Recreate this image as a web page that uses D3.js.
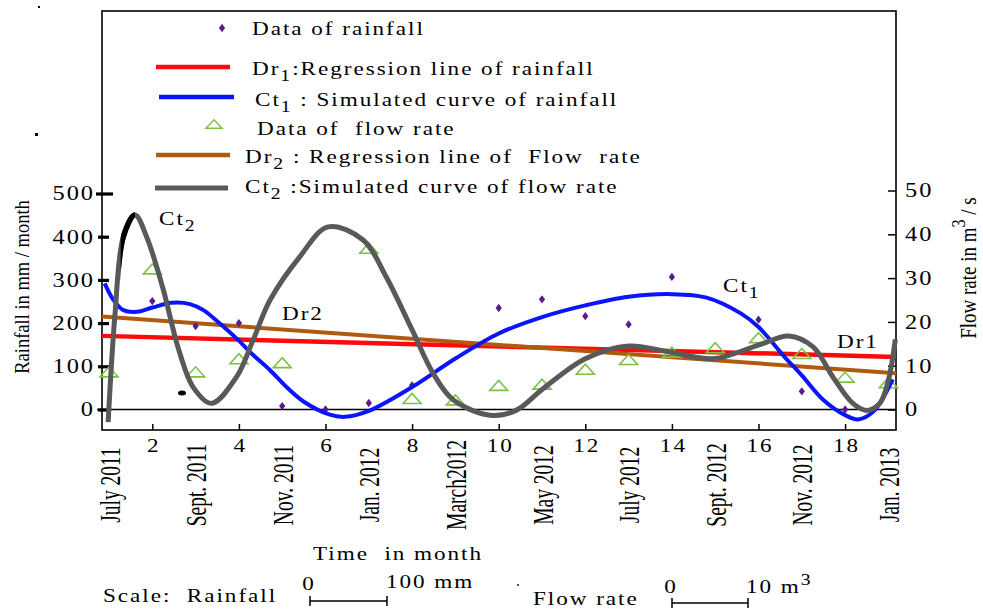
<!DOCTYPE html>
<html>
<head>
<meta charset="utf-8">
<script src="https://cdn.jsdelivr.net/npm/d3@7"></script>
<style>
  body { margin: 0; background: #fff; }
  text { font-family: "Liberation Serif", "Times New Roman", serif; fill: #000; }
</style>
</head>
<body>
<svg id="chart" width="983" height="611"></svg>
<script>
// ---- data ----
const xTicks = [2, 4, 6, 8, 10, 12, 14, 16, 18];
const labelMonths = [1, 3, 5, 7, 9, 11, 13, 15, 17, 19];
const monthLabels = ["July 2011", "Sept. 2011", "Nov. 2011", "Jan. 2012", "March2012",
                     "May 2012", "July 2012", "Sept. 2012", "Nov. 2012", "Jan. 2013"];
const rainTicks = [0, 100, 200, 300, 400, 500];
const flowTicks = [0, 10, 20, 30, 40, 50];

// monthly rainfall (mm) - [month, value]
const rainfall = [[2, 251], [3, 193], [4, 200], [5, 8], [6, 0], [7, 15], [8, 56], [10, 235],
                  [11, 255], [12, 216], [13, 197], [14, 307], [16, 208], [17, 42], [18, 0]];
// flow rate (m3/s) - [month, value]
const flowRate = [[1, 8.6], [2, 32.1], [3, 8.6], [4, 11.6], [5, 10.7], [7, 36.8], [8, 2.5],
                  [9, 2.2], [10, 5.5], [11, 5.8], [12, 9.2], [13, 11.4], [14, 13.1], [15, 14.1],
                  [16, 16.4], [17, 12.8], [18, 7.4], [19, 6.1]];
// Ct1 simulated curve of rainfall (mm)
const ct1 = [[0.9, 292], [1.1, 254], [1.33, 230], [1.65, 226], [2.0, 236], [2.45, 247], [2.87, 244],
             [3.18, 230], [3.56, 199], [3.95, 164], [4.33, 126], [4.72, 91], [5.1, 52], [5.5, 18],
             [6.1, -12], [6.45, -17], [7.0, -3], [8.0, 52], [9.0, 118], [10.0, 176], [11.0, 214],
             [12.0, 241], [13.0, 261], [14.0, 267], [14.8, 259], [15.6, 222], [16.0, 191],
             [16.6, 122], [17.0, 79], [17.5, 22], [18.0, -13], [18.3, -23], [18.65, -5], [19.1, 70]];
// Ct2 simulated curve of flow rate (m3/s)
const ct2 = [[0.98, -2.9], [1.14, 21.9], [1.33, 39.4], [1.6, 44.4], [1.87, 39.4], [2.25, 27.5],
             [2.6, 14.0], [2.95, 5.0], [3.37, 1.4], [3.95, 7.5], [4.33, 15.9], [4.72, 25.0],
             [5.4, 34.8], [6.06, 41.7], [6.87, 38.7], [7.4, 30.3], [7.99, 18.4], [8.49, 8.2],
             [8.95, 2.2], [9.8, -1.3], [10.4, -0.2], [11.03, 4.8], [12.0, 11.6], [13.0, 14.5],
             [14.0, 13.0], [14.96, 11.6], [16.0, 14.7], [16.7, 16.8], [17.26, 14.3], [17.72, 7.4],
             [18.18, 1.4], [18.5, -0.2], [18.8, 1.4], [19.0, 6.7], [19.16, 16.0]];
// regression lines: value at month 1 and month 19
const dr1 = [170, 122.2];
const dr2 = [21.1, 8.4];

// ---- layout ----
const SX = 1.22;           // horizontal stretch of flat text
const LS = 1.6;            // plus some letter spacing
const SXR = 1.47;          // stretch of rotated text
const frame = { left: 102, right: 896, top: 11, bottom: 430 };
const svg = d3.select('#chart');

const x = d3.scaleLinear().domain([1, 19]).range([109, 888.4]);
const yL = d3.scaleLinear().domain([0, 500]).range([409.5, 193.5]);
const yR = d3.scaleLinear().domain([0, 50]).range([409.5, 190.5]);
const xMin = x.invert(frame.left), xMax = x.invert(frame.right);

const col = { red: '#ff0a0a', blue: '#0a14ff', brown: '#b05a10', gray: '#595959',
              green: '#7cc142', purple: '#5b1a8e' };

// text helper: parts = [[string, 'sub'|'sup'|undefined], ...]
function label(g, px, py, parts, size, anchor, rotate) {
  const t = g.append('text')
    .attr('transform', rotate ? `translate(${px},${py}) scale(${SXR},1) rotate(-90)`
                              : `translate(${px},${py}) scale(${SX},1)`)
    .attr('font-size', size)
    .attr('text-anchor', anchor || 'start');
  if (rotate) t.attr('dominant-baseline', 'central');
  else t.attr('letter-spacing', LS);
  let shift = 0;
  parts.forEach(([s, kind]) => {
    const want = kind === 'sub' ? size * 0.3 : kind === 'sup' ? -size * 0.4 : 0;
    t.append('tspan')
      .attr('dy', want - shift)
      .attr('font-size', kind ? size * 0.85 : size)
      .text(s);
    shift = want;
  });
  return t;
}

// ---- frame + zero line ----
svg.append('rect')
  .attr('x', frame.left).attr('y', frame.top)
  .attr('width', frame.right - frame.left).attr('height', frame.bottom - frame.top)
  .attr('fill', 'none').attr('stroke', '#000').attr('stroke-width', 1.6);
svg.append('line')
  .attr('x1', 97).attr('x2', frame.right)
  .attr('y1', yL(0)).attr('y2', yL(0))
  .attr('stroke', '#000').attr('stroke-width', 1.6);

// ---- axes ----
const gL = svg.append('g').attr('transform', `translate(${frame.left},0)`)
  .call(d3.axisLeft(yL).tickValues(rainTicks).tickSize(7).tickPadding(1));
gL.select('.domain').remove();
gL.selectAll('.tick line')
  .attr('x1', d => d === 500 ? 11 : 7).attr('x2', d => d === 500 ? -6 : -4)
  .attr('stroke-width', 3.2).attr('stroke', '#000');
gL.selectAll('.tick text')
  .attr('font-family', null).attr('font-size', 20).attr('letter-spacing', LS)
  .attr('transform', `scale(${SX},1)`).attr('x', -7 / SX);

const gR = svg.append('g').attr('transform', `translate(${frame.right},0)`)
  .call(d3.axisRight(yR).tickValues(flowTicks).tickSize(-8).tickPadding(9));
gR.select('.domain').remove();
gR.selectAll('.tick line').attr('stroke-width', 1.5).attr('stroke', '#000');
gR.selectAll('.tick text')
  .attr('font-family', null).attr('font-size', 20).attr('letter-spacing', LS)
  .attr('transform', `scale(${SX},1)`).attr('x', 9 / SX);

const gB = svg.append('g').attr('transform', `translate(0,${frame.bottom})`)
  .call(d3.axisBottom(x).tickValues(xTicks).tickSize(-6).tickPadding(9));
gB.select('.domain').remove();
gB.selectAll('.tick line').attr('stroke-width', 1.5).attr('stroke', '#000');
gB.selectAll('.tick text')
  .attr('font-family', null).attr('font-size', 19).attr('letter-spacing', LS)
  .attr('transform', `scale(${SX},1)`).attr('x', LS / 2);

// rotated month labels
const gM = svg.append('g');
labelMonths.forEach((m, i) => {
  const px = Math.min(Math.max(x(m), 100), 893);
  label(gM, px, 485, [[monthLabels[i]]], 19.5, 'middle', true);
});

// axis titles
label(svg, 22, 287, [['Rainfall in mm / month']], 18.5, 'middle', true)
  .attr('transform', 'translate(22,287) scale(1.15,1) rotate(-90)');
label(svg, 968, 268, [['Flow rate in m'], ['3', 'sup'], [' / s']], 19, 'middle', true)
  .attr('transform', 'translate(968,268) scale(1.2,1) rotate(-90)');
label(svg, 313, 560, [['Time\u00a0\u00a0in month']], 19);

// ---- marks ----
const regLine = (vals, scale) => d3.line()
  .x(d => x(d))
  .y(d => scale(vals[0] + (vals[1] - vals[0]) * (d - 1) / 18));

svg.append('path').datum([xMin, xMax])
  .attr('d', regLine(dr1, yL))
  .attr('fill', 'none').attr('stroke', col.red).attr('stroke-width', 4.5);
svg.append('path').datum([xMin, xMax])
  .attr('d', regLine(dr2, yR))
  .attr('fill', 'none').attr('stroke', col.brown).attr('stroke-width', 4);

const triPath = 'M-9,5L9,5L0,-5Z';
svg.append('g').selectAll('path')
  .data(flowRate)
  .join('path')
  .attr('transform', d => `translate(${x(d[0])},${yR(d[1])})`)
  .attr('d', triPath)
  .attr('fill', 'none').attr('stroke', col.green).attr('stroke-width', 1.6);

const diamond = d3.symbol(d3.symbolDiamond, 20);
svg.append('g').selectAll('path')
  .data(rainfall)
  .join('path')
  .attr('transform', d => `translate(${x(d[0])},${yL(d[1])}) scale(1.3,1)`)
  .attr('d', diamond)
  .attr('fill', col.purple);

const curve1 = d3.line().x(d => x(d[0])).y(d => yL(d[1])).curve(d3.curveCatmullRom.alpha(0.5));
const curve2 = d3.line().x(d => x(d[0])).y(d => yR(d[1])).curve(d3.curveCatmullRom.alpha(0.5));

svg.append('path').datum(ct1)
  .attr('d', curve1)
  .attr('fill', 'none').attr('stroke', col.blue).attr('stroke-width', 4);
svg.append('path').datum(ct2)
  .attr('d', curve2)
  .attr('fill', 'none').attr('stroke', col.gray).attr('stroke-width', 5);

// black stretch on the rising part of Ct2
svg.append('clipPath').attr('id', 'blk')
  .append('rect').attr('x', x(1.27)).attr('y', 0)
  .attr('width', x(1.6) - x(1.27)).attr('height', 611);
svg.append('path').datum(ct2)
  .attr('d', curve2).attr('clip-path', 'url(#blk)')
  .attr('fill', 'none').attr('stroke', '#000').attr('stroke-width', 5.5);

// stray marks of the scanned figure
svg.append('ellipse').attr('cx', 182).attr('cy', 393).attr('rx', 4).attr('ry', 2.5).attr('fill', '#000');
svg.append('rect').attr('x', 35).attr('y', 133).attr('width', 3).attr('height', 3).attr('fill', '#000');
svg.append('rect').attr('x', 38).attr('y', 6).attr('width', 2).attr('height', 2).attr('fill', '#000');
svg.append('rect').attr('x', 517).attr('y', 584).attr('width', 2).attr('height', 2).attr('fill', '#555');

// in-plot labels
label(svg, 159, 225, [['Ct'], ['2', 'sub']], 19);
label(svg, 282, 320, [['Dr2']], 19);
label(svg, 723, 292, [['Ct'], ['1', 'sub']], 19);
label(svg, 837, 348, [['Dr1']], 19);

// ---- legend ----
const lg = svg.append('g');
lg.append('path').attr('transform', 'translate(222,28) scale(1.3,1)').attr('d', diamond).attr('fill', col.purple);
label(lg, 252, 35, [['Data of rainfall']], 19);

lg.append('line').attr('x1', 156).attr('x2', 230).attr('y1', 67).attr('y2', 67)
  .attr('stroke', col.red).attr('stroke-width', 4.3);
label(lg, 252, 75, [['Dr'], ['1', 'sub'], [':Regression line of rainfall']], 19);

lg.append('line').attr('x1', 159).attr('x2', 234).attr('y1', 97).attr('y2', 97)
  .attr('stroke', col.blue).attr('stroke-width', 4.3);
label(lg, 255, 106, [['Ct'], ['1', 'sub'], [' : Simulated curve of rainfall']], 19);

lg.append('path').attr('transform', 'translate(214,124) scale(0.9,0.85)').attr('d', triPath)
  .attr('fill', 'none').attr('stroke', col.green).attr('stroke-width', 1.6);
label(lg, 257, 135, [['Data of\u00a0 flow rate']], 19);

lg.append('line').attr('x1', 156).attr('x2', 230).attr('y1', 155).attr('y2', 155)
  .attr('stroke', col.brown).attr('stroke-width', 4.3);
label(lg, 245, 163, [['Dr'], ['2', 'sub'], [' : Regression line of\u00a0 Flow\u00a0 rate']], 19);

lg.append('line').attr('x1', 155).attr('x2', 228).attr('y1', 188).attr('y2', 188)
  .attr('stroke', col.gray).attr('stroke-width', 5);
label(lg, 245, 193, [['Ct'], ['2', 'sub'], [' :Simulated curve of flow rate']], 19);

// ---- scale note at the bottom ----
const sc = svg.append('g');
label(sc, 103, 602, [['Scale:\u00a0 Rainfall']], 19);
label(sc, 309, 590, [['0']], 19, 'middle');
label(sc, 386, 588, [['100 mm']], 19);
label(sc, 533, 605, [['Flow rate']], 19);
label(sc, 671, 593, [['0']], 19, 'middle');
label(sc, 746, 593, [['10 m'], ['3', 'sup']], 19);
[[310, 387, 601], [672, 748, 603]].forEach(([a, b, yy]) => {
  sc.append('path')
    .attr('d', `M${a},${yy - 5}V${yy + 5}M${a},${yy}H${b}M${b},${yy - 5}V${yy + 5}`)
    .attr('fill', 'none').attr('stroke', '#000').attr('stroke-width', 1.5);
});
</script>
</body>
</html>
